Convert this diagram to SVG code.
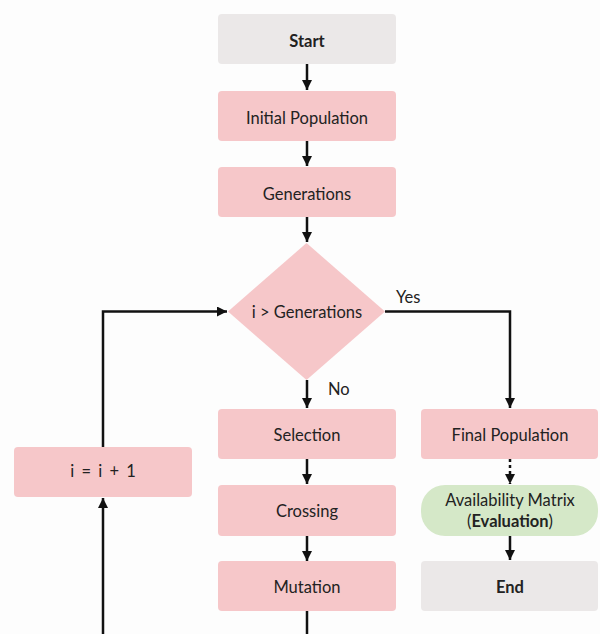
<svg xmlns="http://www.w3.org/2000/svg" width="600" height="634" viewBox="0 0 600 634">
<defs>
<marker id="ah" viewBox="0 0 10 10" refX="10" refY="5" markerWidth="4" markerHeight="4" orient="auto" markerUnits="strokeWidth">
<path d="M0,0 L10,5 L0,10 Z" fill="#111"/>
</marker>
<style>
.box{fill:#f6c7c9;}
.term{fill:#ebe8e8;}
.eval{fill:#d5e8c8;}
text{font-family:Lato,"Open Sans","Liberation Sans",sans-serif;font-size:16.5px;fill:#222;text-anchor:middle;}
.b{font-weight:bold;}
.c{fill:none;stroke:#111;stroke-width:2.5;}
.lbl{text-anchor:start;}
</style>
</defs>
<rect width="600" height="634" fill="#fdfdfd"/>
<g id="connectors">
<line class="c" x1="307" y1="64" x2="307" y2="90" marker-end="url(#ah)"/>
<line class="c" x1="307" y1="141" x2="307" y2="166" marker-end="url(#ah)"/>
<line class="c" x1="307" y1="217" x2="307" y2="242" marker-end="url(#ah)"/>
<line class="c" x1="307" y1="380" x2="307" y2="408" marker-end="url(#ah)"/>
<line class="c" x1="307" y1="459" x2="307" y2="484" marker-end="url(#ah)"/>
<line class="c" x1="307" y1="536" x2="307" y2="561" marker-end="url(#ah)"/>
<line class="c" x1="307" y1="611" x2="307" y2="634"/>
<polyline class="c" points="385,311.5 510,311.5 510,408" marker-end="url(#ah)"/>
<line class="c" x1="510" y1="459" x2="510" y2="484" stroke-dasharray="3,3" marker-end="url(#ah)"/>
<line class="c" x1="510" y1="536" x2="510" y2="560" marker-end="url(#ah)"/>
<line class="c" x1="103" y1="634" x2="103" y2="498" marker-end="url(#ah)"/>
<polyline class="c" points="103,447 103,311.5 227,311.5" marker-end="url(#ah)"/>
<text class="lbl" x="396" y="303">Yes</text>
<text class="lbl" x="328" y="395">No</text>
</g>
<g id="start"><rect class="term" x="218" y="14" width="178" height="50" rx="4"/><text class="b" x="307" y="46.5">Start</text></g>
<g id="initial"><rect class="box" x="218" y="91" width="178" height="50" rx="4"/><text x="307" y="123.5">Initial Population</text></g>
<g id="generations"><rect class="box" x="218" y="167" width="178" height="50" rx="4"/><text x="307" y="199.5">Generations</text></g>
<g id="decision"><polygon class="box" points="306.5,243 385,311.5 306.5,380 228,311.5"/><text x="307" y="318">i &gt; Generations</text></g>
<g id="selection"><rect class="box" x="218" y="409" width="178" height="50" rx="4"/><text x="307" y="441">Selection</text></g>
<g id="crossing"><rect class="box" x="218" y="485" width="178" height="51" rx="4"/><text x="307" y="517">Crossing</text></g>
<g id="mutation"><rect class="box" x="218" y="561" width="178" height="50" rx="4"/><text x="307" y="593">Mutation</text></g>
<g id="increment"><rect class="box" x="14" y="447" width="178" height="50" rx="4"/><text x="103" y="477" word-spacing="3">i = i + 1</text></g>
<g id="final"><rect class="box" x="421" y="409" width="177" height="50" rx="4"/><text x="510" y="441">Final Population</text></g>
<g id="evaluation"><rect class="eval" x="421" y="485" width="177" height="51" rx="24"/><text x="510" y="506">Availability Matrix</text><text x="510" y="527">(<tspan class="b">Evaluation</tspan>)</text></g>
<g id="end"><rect class="term" x="421" y="561" width="177" height="50" rx="4"/><text class="b" x="510" y="593">End</text></g>
</svg>
